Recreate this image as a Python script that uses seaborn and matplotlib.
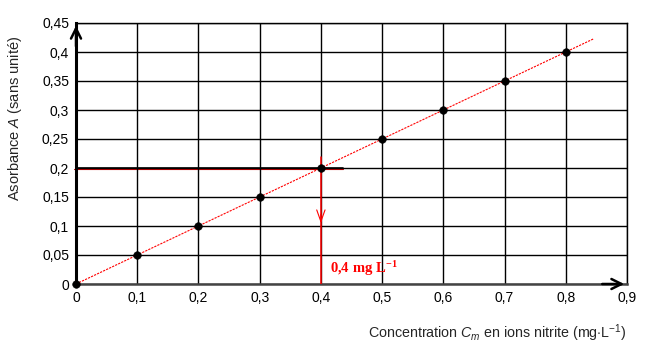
'''calibration curve: absorbance vs nitrite concentration'''
import numpy as np
import pandas as pd
import seaborn as sns
import matplotlib.pyplot as plt

#region data
conc = [0.0, 0.1, 0.2, 0.3, 0.4, 0.5, 0.6, 0.7, 0.8]
absorb = [0.0, 0.05, 0.10, 0.15, 0.20, 0.25, 0.30, 0.35, 0.40]
fit_x = [0.0, 0.845]
fit_y = [0.0, 0.4225]
x_ticks = [0, 0.1, 0.2, 0.3, 0.4, 0.5, 0.6, 0.7, 0.8, 0.9]
y_ticks = [0, 0.05, 0.1, 0.15, 0.2, 0.25, 0.3, 0.35, 0.4, 0.45]
x_ticklabels = ['0', '0,1', '0,2', '0,3', '0,4', '0,5', '0,6', '0,7', '0,8', '0,9']
y_ticklabels = ['0', '0,05', '0,1', '0,15', '0,2', '0,25', '0,3', '0,35', '0,4', '0,45']
read_a = 0.2
read_c = 0.4
#endregion

sns.set_theme(style='white')
plt.rcParams['font.family'] = ['Liberation Sans', 'DejaVu Sans']
plt.rcParams['mathtext.fontset'] = 'custom'
plt.rcParams['mathtext.rm'] = 'Liberation Sans'
plt.rcParams['mathtext.it'] = 'Liberation Sans:italic'
plt.rcParams['mathtext.bf'] = 'Liberation Serif:bold'

df = pd.DataFrame({'conc': conc, 'absorb': absorb})
fit = pd.DataFrame({'x': fit_x, 'y': fit_y})

fig = plt.figure(figsize=(6.45, 3.53), dpi=100)
ax = fig.add_axes([76 / 645, 1 - 284 / 353, 551 / 645, 261 / 353])

ax.set_xlim(0, 0.9)
ax.set_ylim(0, 0.45)
ax.set_xticks(x_ticks)
ax.set_yticks(y_ticks)
ax.set_xticklabels(x_ticklabels)
ax.set_yticklabels(y_ticklabels)
ax.grid(True, color='black', lw=1)
ax.set_axisbelow(True)
ax.tick_params(length=0, labelsize=10, colors='black', pad=5)
for s in ('top', 'right'):
    ax.spines[s].set_visible(True)
    ax.spines[s].set_color('black')
    ax.spines[s].set_linewidth(1)
ax.spines['left'].set_color('black')
ax.spines['left'].set_linewidth(2.2)
ax.spines['bottom'].set_color('#444444')
ax.spines['bottom'].set_linewidth(1.8)

# fit line
sns.lineplot(data=fit, x='x', y='y', ax=ax, color='red', lw=0.8,
             linestyle=(0, (2, 1)), zorder=3)

# reading construction
ax.plot([-0.004, 0.436], [read_a - 0.0015, read_a - 0.0015], color='#cc0000', lw=0.8, zorder=0.5, clip_on=False)
ax.plot([-0.004, 0.436], [read_a, read_a], color='black', lw=1.2, zorder=2)
ax.plot([read_c, read_c], [0, 0.219], color='red', lw=1.1, zorder=3)
ax.annotate('', xy=(read_c, 0.1), xytext=(read_c, 0.125),
            arrowprops=dict(arrowstyle='->,head_length=0.7,head_width=0.25', color='red', lw=0.8),
            zorder=4)
ax.text(0.415, 0.027, r'$\mathbf{0{,}4\ mg\ L^{-1}}$', color='red', fontsize=10.5,
        ha='left', va='center')

# data points
sns.scatterplot(data=df, x='conc', y='absorb', ax=ax, color='black', s=30,
                edgecolor='black', zorder=5, clip_on=False)

# axis arrows
ax.annotate('', xy=(0, 1.0), xytext=(0, 0.9), xycoords='axes fraction',
            arrowprops=dict(arrowstyle='->,head_length=0.6,head_width=0.3', color='black', lw=1.8))
ax.annotate('', xy=(1.0, 0), xytext=(0.95, 0), xycoords='axes fraction',
            arrowprops=dict(arrowstyle='->,head_length=0.6,head_width=0.3', color='black', lw=1.8))

ax.set_xlabel(r'Concentration $C_m$ en ions nitrite (mg$\cdot$L$^{-1}$)', fontsize=10.3)
ax.set_ylabel(r'Asorbance $A$ (sans unité)', fontsize=10.5)
ax.xaxis.set_label_coords(0.764, -0.148)
ax.yaxis.set_label_coords(-0.094, 0.636)

fig.savefig('out.png', dpi=100)
